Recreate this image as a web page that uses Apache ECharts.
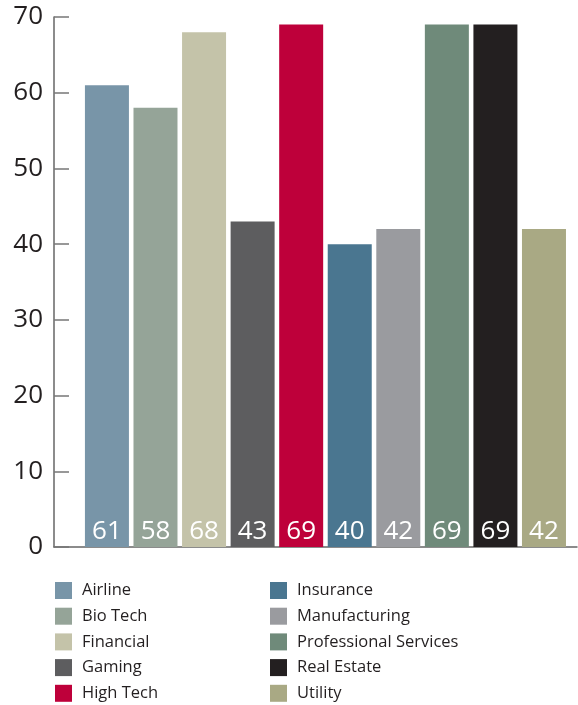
<!DOCTYPE html>
<html>
<head>
<meta charset="utf-8">
<script src="https://cdn.jsdelivr.net/npm/echarts@6/dist/echarts.min.js"></script>
<style>
  html, body { margin: 0; padding: 0; background: #fff; }
  #chart { width: 578px; height: 705px; }
</style>
</head>
<body>
<div id="chart"></div>
<script>
// Sector scores
const categories = ['Airline', 'Bio Tech', 'Financial', 'Gaming', 'High Tech',
  'Insurance', 'Manufacturing', 'Professional Services', 'Real Estate', 'Utility'];
const values = [61, 58, 68, 43, 69, 40, 42, 69, 69, 42];
const yTicks = [0, 10, 20, 30, 40, 50, 60, 70];

// One colour per sector
const palette = ['#7895a8', '#95a498', '#c4c3a9', '#5d5d5f', '#be003a',
  '#4a7690', '#9a9b9f', '#6f8a7a', '#231f20', '#a9a984'];

const FONT = '"Open Sans", "Noto Sans", sans-serif';

const chart = echarts.init(document.getElementById('chart'), null, { renderer: 'canvas' });

const series = categories.map((name, i) => ({
  type: 'bar',
  name: name,
  data: [[i, values[i]]],
  barWidth: 44,
  barGap: '-100%',
  itemStyle: { color: palette[i] },
  emphasis: { disabled: true },
  label: {
    show: true,
    position: 'insideBottom',
    distance: 2,
    color: '#fff',
    fontFamily: FONT,
    fontSize: 26,
    formatter: p => String(p.value[1])
  }
}));

const legendCommon = {
  orient: 'vertical',
  icon: 'rect',
  itemWidth: 17,
  itemHeight: 17,
  itemGap: 8.7,
  padding: 0,
  height: 160,
  selectedMode: false,
  textStyle: { fontFamily: FONT, fontSize: 16.5, color: '#231f20', padding: [0, 0, 0, 5] }
};

chart.setOption({
  animation: false,
  backgroundColor: '#fff',
  grid: { left: 54, right: 1, top: 17, bottom: 158, containLabel: false },
  legend: [
    Object.assign({}, legendCommon, { left: 55, top: 582, data: categories.slice(0, 5) }),
    Object.assign({}, legendCommon, { left: 270, top: 582, data: categories.slice(5) })
  ],
  xAxis: {
    type: 'value',
    min: -1.09,
    max: 9.68,
    splitLine: { show: false },
    axisTick: { show: false },
    axisLabel: { show: false },
    axisLine: { show: true, onZero: false, lineStyle: { color: '#666', width: 1.5 } }
  },
  yAxis: {
    type: 'value',
    min: yTicks[0],
    max: yTicks[yTicks.length - 1],
    interval: 10,
    splitLine: { show: false },
    axisLine: { show: true, onZero: false, lineStyle: { color: '#666', width: 1.5 } },
    axisTick: { show: true, inside: true, length: 15, lineStyle: { color: '#777', width: 1.5 } },
    axisLabel: { fontFamily: FONT, fontSize: 26, color: '#231f20', margin: 11 }
  },
  series: series
});
</script>
</body>
</html>
